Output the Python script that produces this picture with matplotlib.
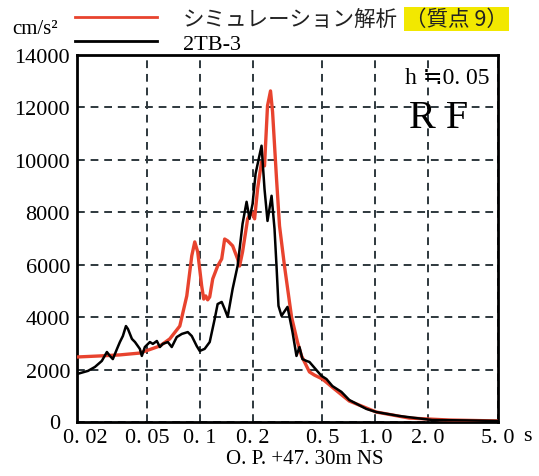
"""response spectrum comparison: simulation vs record 2TB-3"""
import matplotlib
matplotlib.use("Agg")
import matplotlib.pyplot as plt
import matplotlib.transforms as mtransforms

# periods [s] and spectral acceleration [cm/s2]
obs_period = [0.020, 0.0231, 0.0253, 0.0277, 0.0296, 0.0308, 0.0320, 0.0338, 0.0351, 0.0365,
              0.0380, 0.0390, 0.0411, 0.0428, 0.0456, 0.0468, 0.0487, 0.0520, 0.0541, 0.0570,
              0.0593, 0.0616, 0.0658, 0.0693, 0.0740, 0.0791, 0.0855, 0.0901, 0.0961, 0.100,
              0.1067, 0.1140, 0.1217, 0.1265, 0.1334, 0.1387, 0.1443, 0.1540, 0.1644, 0.1754,
              0.1849, 0.1922, 0.2000, 0.2080, 0.2250, 0.2339, 0.2433, 0.2566, 0.2667, 0.2738,
              0.2810, 0.2923, 0.3162, 0.3375, 0.3557, 0.370, 0.3847, 0.4055, 0.4217, 0.4935,
              0.5268, 0.570, 0.641, 0.711, 0.889, 1.013, 1.369, 1.71, 2.11, 3.29, 5.0]
obs_accel = [1830, 1950, 2100, 2330, 2670, 2520, 2400, 2790, 3050, 3280,
             3660, 3550, 3170, 3050, 2790, 2520, 2860, 3050, 2980, 3090,
             2860, 2980, 3050, 2860, 3240, 3360, 3430, 3280, 2900, 2710,
             2790, 3050, 3930, 4500, 4580, 4310, 4010, 5080, 5960, 7560,
             8400, 7750, 8320, 9470, 10540, 8890, 7670, 8630, 7370, 5950,
             4430, 4050, 4390, 3440, 2520, 2860, 2400, 2330, 2290, 1760,
             1640, 1370, 1150, 840, 500, 380, 230, 150, 76, 60, 40]

sim_period = [0.020, 0.0270, 0.0351, 0.0456, 0.0593, 0.0675, 0.0770, 0.0844, 0.0901, 0.0937,
              0.0974, 0.1026, 0.1054, 0.1082, 0.1110, 0.1140, 0.1186, 0.1265, 0.1334, 0.1387,
              0.1443, 0.1540, 0.1644, 0.1687, 0.1754, 0.1849, 0.1874, 0.1974, 0.2054, 0.2136,
              0.2250, 0.2339, 0.2433, 0.2531, 0.2600, 0.2738, 0.2848, 0.3040, 0.3334, 0.3604,
              0.380, 0.4217, 0.4500, 0.500, 0.585, 0.711, 1.013, 1.561, 2.63, 5.0]
sim_accel = [2480, 2520, 2560, 2630, 2900, 3170, 3660, 4810, 6340, 6870,
             6490, 5190, 4690, 4810, 4660, 4770, 5460, 5950, 6220, 6980,
             6910, 6720, 6220, 5950, 6490, 7480, 7750, 8020, 7750, 8890,
             9920, 9770, 12060, 12630, 11830, 9280, 7480, 5950, 4010, 3050,
             2520, 1910, 1790, 1640, 1260, 800, 380, 150, 76, 40]

x_ticks = [0.02, 0.05, 0.1, 0.2, 0.5, 1.0, 2.0, 5.0]
x_labels = ["0. 02", "0. 05", "0. 1", "0. 2", "0. 5", "1. 0", "2. 0", "5. 0"]
y_ticks = [0, 2000, 4000, 6000, 8000, 10000, 12000, 14000]

SERIF = ["Liberation Serif", "DejaVu Sans", "Noto Sans CJK JP"]
JP = ["Noto Sans CJK JP", "DejaVu Sans"]
RED = "#e8432e"
GRID = "#2e383d"

fig = plt.figure(figsize=(5.39, 4.77), dpi=100)
ax = fig.add_axes([77 / 539, 1 - 423 / 477, 421 / 539, 367 / 477])

ax.plot(sim_period, sim_accel, color=RED, lw=2.4, zorder=3)
ax.plot(obs_period, obs_accel, color="black", lw=1.8, zorder=4)

ax.set_xscale("log")
ax.set_xlim(0.02, 5.0)
ax.set_ylim(0, 14000)
ax.set_xticks(x_ticks)
ax.set_xticklabels(x_labels, family=SERIF, fontsize=16)
ax.minorticks_off()
ax.set_yticks(y_ticks)
ax.set_yticklabels([str(v) for v in y_ticks], family=SERIF, fontsize=16)
ax.tick_params(length=0, pad=4)
ax.tick_params(axis="y", pad=5)
ax.grid(True, color=GRID, ls=(0, (4, 3)), lw=1.4)
for sp in ax.spines.values():
    sp.set_linewidth(2.0)

# first x label is pushed right to clear the "0"
off = mtransforms.ScaledTranslation(8 / 100, 0, fig.dpi_scale_trans)
xl = ax.get_xticklabels()
xl[0].set_transform(xl[0].get_transform() + off)
yl = ax.get_yticklabels()
yl[0].set_transform(yl[0].get_transform() + mtransforms.ScaledTranslation(-10 / 100, 1 / 100, fig.dpi_scale_trans))

fig.text(523 / 539, 1 - 437 / 477, "s", family=SERIF, fontsize=16,
         ha="left", va="center")
fig.text(305 / 539, 1 - 460 / 477, "O. P. +47. 30m NS", family=SERIF, fontsize=15,
         ha="center", va="center")

ax.text(0.98, 0.94, "h \u22520. 05", transform=ax.transAxes, family=SERIF,
        fontsize=17, ha="right", va="center")
ax.text(0.93, 0.83, "R F", transform=ax.transAxes, family=SERIF,
        fontsize=29, ha="right", va="center")

# unit and legend above the frame
fig.text(12 / 539, 1 - 30 / 477, "cm/s\u00b2", family=SERIF, fontsize=15, va="center")
fig.add_artist(plt.Line2D([75 / 539, 157 / 539], [1 - 18 / 477] * 2, color=RED, lw=2.0))
fig.add_artist(plt.Line2D([75 / 539, 157 / 539], [1 - 42 / 477] * 2, color="black", lw=2.0))
fig.text(183 / 539, 1 - 20 / 477, "シミュレーション解析", family=JP, fontsize=15.5,
         va="center", color="#222222")
fig.text(405 / 539, 1 - 20 / 477, "（質点 9）", family=JP, fontsize=15.5, va="center",
         color="#222222", bbox=dict(facecolor="#f2e800", edgecolor="none", pad=1))
fig.text(183 / 539, 1 - 45 / 477, "2TB-3", family=SERIF, fontsize=16, va="center")

fig.savefig("out.png", dpi=100)
